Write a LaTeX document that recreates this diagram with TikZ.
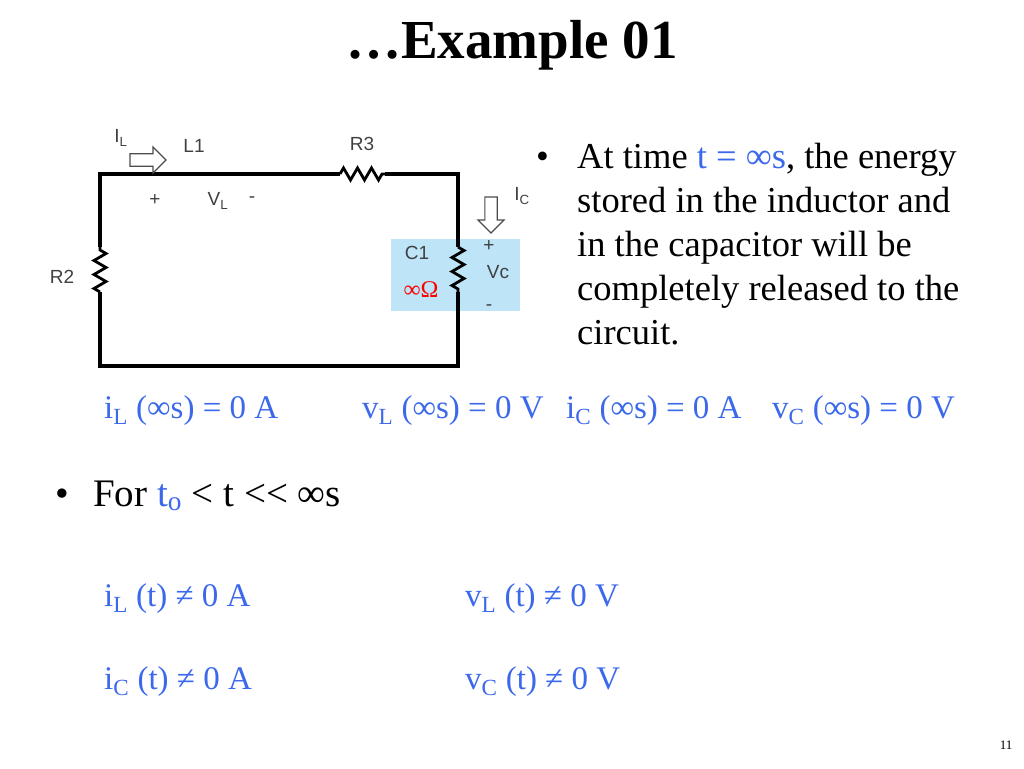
\documentclass[tikz,border=0pt]{standalone}
\usepackage{fontspec}
\setmainfont{Liberation Serif}
\newfontfamily\circfont{Liberation Sans}
\usetikzlibrary{decorations.pathmorphing,shapes.arrows}
\definecolor{eqblue}{RGB}{60,105,235}
\definecolor{boxblue}{RGB}{190,228,248}
\begin{document}
\begin{tikzpicture}[
  x=1pt,y=-1pt,
  wire/.style={line width=3.2pt},
  res/.style={
    line width=2.8pt,
    decorate,
    decoration={zigzag,segment length=14pt,amplitude=6pt}
  },
  clabel/.style={font=\circfont\fontsize{19}{19}\selectfont,text=black!75,inner sep=0pt},
  bodytext/.style={font=\fontsize{36.5}{44}\selectfont,inner sep=0pt,anchor=base west},
  eq/.style={font=\fontsize{33}{33}\selectfont,text=eqblue,inner sep=0pt,anchor=base west},
  hollow/.style={single arrow,draw=black!70,line width=1.2pt,fill=white,
    minimum height=36pt,minimum width=26pt,single arrow head extend=4pt,inner sep=3pt}
]
\useasboundingbox (0,0) rectangle (1024,768);
\fill[boxblue] (391,239) rectangle (520,311);

% Circuit corners
\coordinate (tl) at (100,174);
\coordinate (tr) at (458,174);
\coordinate (bl) at (100,366);
\coordinate (br) at (458,366);
\coordinate (r3a) at (340,174);
\coordinate (r3b) at (385,174);
\coordinate (r2a) at (100,247);
\coordinate (r2b) at (100,292);
\coordinate (c1a) at (458,247);
\coordinate (c1b) at (458,292);

\draw[wire] (r2a) -- (tl) -- (r3a);
\draw[res] (r3a) -- (r3b);
\draw[wire] (r3b) -- (tr) -- (c1a);
\draw[res] (c1a) -- (c1b);
\draw[wire] (c1b) -- (br) -- (bl) -- (r2b);
\draw[res] (r2b) -- (r2a);

% Labels
\node[clabel] (il) at (121,138) {I\textsubscript{L}};
\node[clabel] (l1) at (194,146) {L1};
\node[clabel] (r3) at (362,144) {R3};
\node[clabel] (pl) at (155,200) {+};
\node[clabel] (vl) at (218,201) {V\textsubscript{L}};
\node[clabel] (ml) at (252,200) {-};
\node[clabel] (r2) at (62,277) {R2};
\node[clabel] (c1) at (417,253) {C1};
\node[clabel] (ic) at (522,196) {I\textsubscript{C}};
\node[clabel] (pc) at (489,246) {+};
\node[clabel] (vc) at (498,272) {Vc};
\node[clabel] (mc) at (489,308) {-};
\node[inner sep=0pt,text=red,font=\fontsize{24}{24}\selectfont] (om) at (421,290) {∞Ω};
\node[hollow] (ilarrow) at (145,160) {};
\node[hollow,shape border rotate=270] (icarrow) at (491,212) {};

% Title and text
\node[font=\bfseries\fontsize{55}{55}\selectfont,inner sep=0pt] (title) at (512,45) {…Example 01};
\node[bodytext] (b1) at (536,168) {•};
\node[bodytext] (t1) at (577,168) {At time \textcolor{eqblue}{t = ∞s}, the energy};
\node[bodytext] (t2) at (577,212) {stored in the inductor and};
\node[bodytext] (t3) at (577,256) {in the capacitor will be};
\node[bodytext] (t4) at (577,300) {completely released to the};
\node[bodytext] (t5) at (577,344) {circuit.};

\node[eq] (e1) at (104,418) {i\textsubscript{L} (∞s) = 0 A};
\node[eq] (e2) at (362,418) {v\textsubscript{L} (∞s) = 0 V};
\node[eq] (e3) at (566,418) {i\textsubscript{C} (∞s) = 0 A};
\node[eq] (e4) at (772,418) {v\textsubscript{C} (∞s) = 0 V};

\node[bodytext,font=\fontsize{39}{39}\selectfont] (b2) at (55,506) {•};
\node[bodytext,font=\fontsize{39}{39}\selectfont] (for) at (93,506) {For \textcolor{eqblue}{t\textsubscript{o}} < t <{}< ∞s};

\node[eq] (e5) at (104,606) {i\textsubscript{L} (t) ≠ 0 A};
\node[eq] (e6) at (465,606) {v\textsubscript{L} (t) ≠ 0 V};
\node[eq] (e7) at (104,689) {i\textsubscript{C} (t) ≠ 0 A};
\node[eq] (e8) at (465,689) {v\textsubscript{C} (t) ≠ 0 V};

\node[font=\fontsize{13}{13}\selectfont,inner sep=0pt] (pg) at (1006,745) {11};
\end{tikzpicture}
\end{document}
